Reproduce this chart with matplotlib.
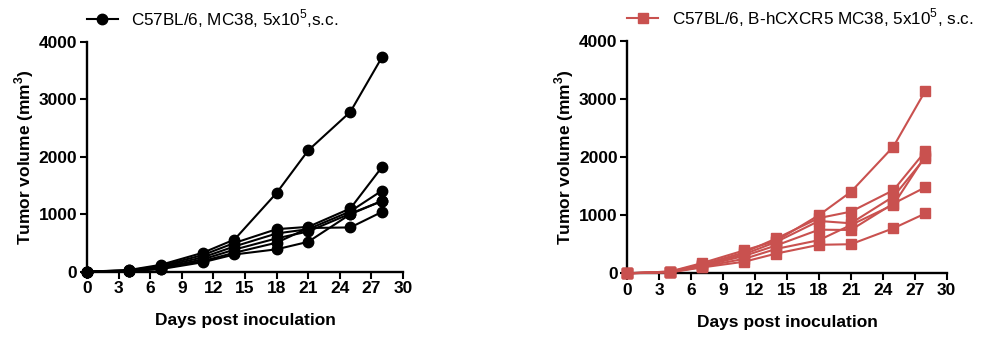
import numpy as np
import matplotlib
matplotlib.use("Agg")
import matplotlib.pyplot as plt

plt.rcParams['font.family'] = ['Liberation Sans', 'DejaVu Sans']
plt.rcParams['mathtext.fontset'] = 'custom'
plt.rcParams['mathtext.rm'] = 'Liberation Sans'
plt.rcParams['mathtext.bf'] = 'Liberation Sans:bold'

# days of measurement
days = [0, 4, 7, 11, 14, 18, 21, 25, 28]

# C57BL/6 wild type, MC38 (one list per mouse)
wt_mice = [
    [0, 30, 120, 330, 560, 1370, 2110, 2780, 3730],
    [0, 25, 100, 290, 500, 740, 780, 1100, 1820],
    [0, 20, 85, 250, 440, 665, 740, 1050, 1410],
    [0, 15, 65, 215, 385, 580, 700, 1010, 1230],
    [0, 10, 55, 185, 330, 505, 760, 770, 1040],
    [0, 10, 45, 165, 300, 390, 520, 1000, 1230],
]

# C57BL/6 B-hCXCR5, MC38
hcxcr5_mice = [
    [0, 30, 175, 395, 560, 1000, 1400, 2180, 3140],
    [0, 30, 150, 360, 600, 950, 1060, 1430, 2100],
    [0, 25, 135, 330, 540, 900, 860, 1320, 1990],
    [0, 20, 120, 300, 480, 750, 745, 1200, 1480],
    [0, 20, 110, 250, 420, 570, 830, 1180, 2020],
    [0, 15, 100, 200, 340, 490, 500, 775, 1030],
]

wt_label = 'C57BL/6, MC38, 5x10$^5$,s.c.'
hcxcr5_label = 'C57BL/6, B-hCXCR5 MC38, 5x10$^5$, s.c.'

fig = plt.figure(figsize=(9.91, 3.46), dpi=100)
ax1 = fig.add_axes([0.0878, 0.2147, 0.3189, 0.6648])
ax2 = fig.add_axes([0.633, 0.2101, 0.3223, 0.6723])


def draw_panel(ax, mice, color, marker, label):
    for i, vals in enumerate(mice):
        ax.plot(days, vals, color=color, marker=marker, markersize=7.5,
                linewidth=1.5, label=label if i == 0 else None,
                clip_on=False, zorder=3)
    ax.set_xlim(0, 30)
    ax.set_ylim(0, 4000)
    ax.set_xticks(np.arange(0, 31, 3))
    ax.set_yticks([0, 1000, 2000, 3000, 4000])
    for s in ['top', 'right']:
        ax.spines[s].set_visible(False)
    for s in ['left', 'bottom']:
        ax.spines[s].set_linewidth(1.7)
    ax.tick_params(width=1.5, length=5, labelsize=12.5, pad=2)
    for t in ax.get_xticklabels() + ax.get_yticklabels():
        t.set_fontweight('bold')
    ax.set_xlabel('Days post inoculation', fontsize=12.5, fontweight='bold', labelpad=12)
    ax.set_ylabel('Tumor volume (mm$^\\mathbf{3}$)', fontsize=12.5, fontweight='bold', labelpad=2)
    ax.legend(loc='center left', bbox_to_anchor=(0.0, 1.1), frameon=False,
              fontsize=12.3, handlelength=1.8, handletextpad=0.8, borderaxespad=0,
              borderpad=0)


draw_panel(ax1, wt_mice, 'black', 'o', wt_label)
draw_panel(ax2, hcxcr5_mice, '#C9514F', 's', hcxcr5_label)

fig.savefig('out.png', dpi=100)
